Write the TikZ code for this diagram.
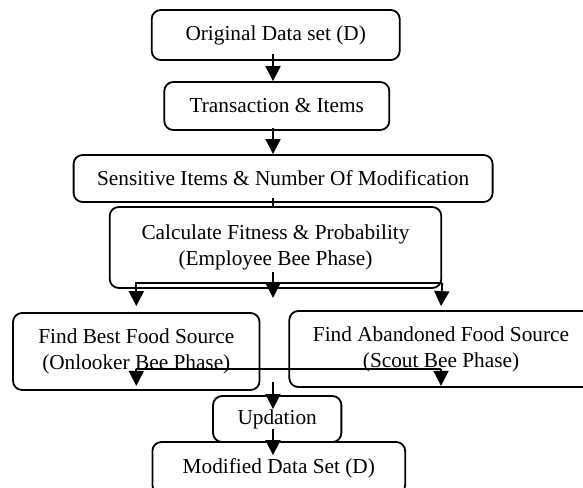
\documentclass[tikz,border=0pt]{standalone}
\usepackage{fontspec}
\setmainfont{Liberation Serif}
\usetikzlibrary{arrows.meta}

\begin{document}
\begin{tikzpicture}[x=1pt,y=-1pt,
  box/.style={draw, rounded corners=9pt, line width=1.8pt, align=center, inner sep=0pt,
    font=\fontsize{21.3}{26}\selectfont},
  arr/.style={line width=1.8pt, -{Triangle[width=15pt,length=15pt]}},
  ln/.style={line width=1.8pt}]
\useasboundingbox (0,0) rectangle (583,487);
\clip (0,0) rectangle (583,487);
\coordinate (axis) at (273,0);
\node [box, minimum width=248pt, minimum height=50pt] (orig) at (275.7,35) {Original Data set (D)};
\node [box, minimum width=225pt, minimum height=48pt] (trans) at (276.8,106) {Transaction \& Items};
\node [box, minimum width=419pt, minimum height=47pt] (sens) at (283.1,178.5) {Sensitive Items \& Number Of Modification};
\node [box, minimum width=331.6pt, minimum height=81pt] (calc) at (275.5,247.5) {Calculate Fitness \& Probability\\(Employee Bee Phase)};
\node [box, minimum width=246.5pt, minimum height=77pt] (best) at (136.3,351.5) {Find Best Food Source\\(Onlooker Bee Phase)};
\node [box, minimum width=303.4pt, minimum height=76pt] (aband) at (441,349) {Find Abandoned Food Source\\(Scout Bee Phase)};
\node [box, minimum width=128.3pt, minimum height=46pt] (upd) at (277.2,419) {Updation};
\node [box, minimum width=252.8pt, minimum height=52pt] (modif) at (278.8,468) {Modified Data Set (D)};
\draw [arr] ([yshift=7pt]orig.south -| axis) -- (trans.north -| axis);
\draw [arr] ([yshift=3pt]trans.south -| axis) -- (sens.north -| axis);
\draw [ln] ([yshift=5pt]sens.south -| axis) -- (calc.north -| axis);
\draw [arr] ([yshift=17pt]calc.south -| axis) -- ([yshift=-9pt]calc.south -| axis);
\coordinate (fork) at ([yshift=6pt]calc.south east);
\draw [arr] (fork) -| ([yshift=6pt]best.north);
\draw [arr] (fork) -- ([yshift=4pt]aband.north);
\coordinate (l) at ([yshift=22pt]best.south);
\coordinate (r) at (l -| aband.south);
\draw [ln] (l) -- (r);
\draw [arr] (l) -- ++(0,17);
\draw [arr] (r) -- ++(0,17);
\draw [arr] ([yshift=13pt]upd.north -| axis) -- ([yshift=-14pt]upd.north -| axis);
\draw [arr] ([yshift=14pt]upd.south -| axis) -- ([yshift=-14pt]modif.north -| axis);
\end{tikzpicture}
\end{document}
